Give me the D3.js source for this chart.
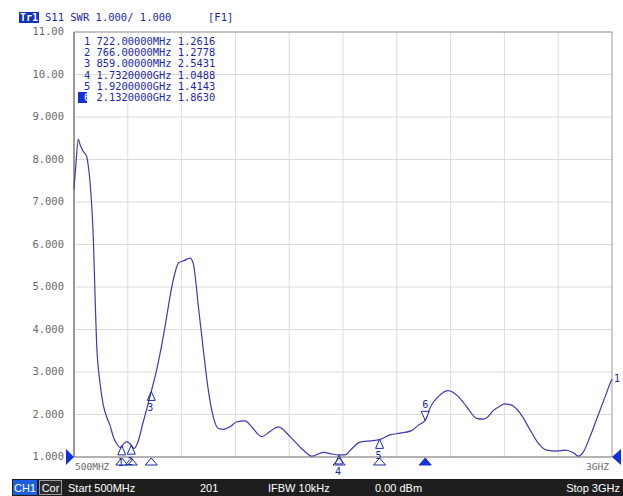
<!DOCTYPE html>
<html>
<head>
<meta charset="utf-8">
<script src="https://cdn.jsdelivr.net/npm/d3@7"></script>
<style>
  html, body { margin: 0; padding: 0; background: #fff; }
  svg { display: block; }
  .mono { font-family: "DejaVu Sans Mono", monospace; }
</style>
</head>
<body>
<svg id="vna" width="623" height="496"></svg>
<script>
"use strict";

// trace 1 : S11 SWR
var freqMHz = [500, 509, 520, 528, 542, 559, 565, 574, 590, 598, 605, 621, 635, 652, 667, 683, 700, 714, 722,
  745, 766, 779, 793, 822, 859, 884, 923, 946, 961, 985, 1011, 1039, 1054, 1078, 1101, 1124, 1147, 1171,
  1194, 1225, 1256, 1295, 1327, 1372, 1411, 1449, 1504, 1566, 1605, 1659, 1690, 1732, 1759, 1792, 1829,
  1876, 1920, 1968, 2015, 2069, 2100, 2132, 2154, 2201, 2239, 2286, 2325, 2371, 2402, 2424, 2448, 2480,
  2501, 2534, 2573, 2619, 2658, 2697, 2743, 2782, 2820, 2843, 2867, 2898, 2936, 2968, 2991, 3000];
var swr = [7.3, 7.9, 8.48, 8.35, 8.2, 8.07, 7.9, 7.5, 6.1, 4.76, 3.68, 2.74, 2.25, 1.94, 1.75, 1.47, 1.3, 1.22, 1.26,
  1.36, 1.28, 1.2, 1.3, 1.83, 2.54, 3.05, 4.07, 4.77, 5.16, 5.56, 5.62, 5.68, 5.56, 4.54, 3.52, 2.58, 1.95, 1.67,
  1.65, 1.71, 1.83, 1.85, 1.7, 1.48, 1.6, 1.71, 1.48, 1.16, 1.02, 1.11, 1.08, 1.05, 1.05, 1.2, 1.35,
  1.38, 1.41, 1.52, 1.56, 1.62, 1.75, 1.86, 2.15, 2.46, 2.56, 2.42, 2.18, 1.91, 1.89, 1.95, 2.09, 2.2,
  2.25, 2.22, 2.03, 1.64, 1.32, 1.16, 1.14, 1.16, 1.10, 1.02, 1.12, 1.48, 1.99, 2.42, 2.73, 2.83];

var markerIds = [1, 2, 3, 4, 5, 6];
var markerFreqs = [722, 766, 859, 1732, 1920, 2132];
var markerVals = [1.2616, 1.2778, 2.5431, 1.0488, 1.4143, 1.8630];
var markerRows = ["722.00000MHz 1.2616", "766.00000MHz 1.2778", "859.00000MHz 2.5431",
  "1.7320000GHz 1.0488", "1.9200000GHz 1.4143", "2.1320000GHz 1.8630"];
var activeMarker = 6;

var yTicks = [1, 2, 3, 4, 5, 6, 7, 8, 9, 10, 11];
var yTickLabels = ["1.000", "2.000", "3.000", "4.000", "5.000", "6.000", "7.000", "8.000", "9.000", "10.00", "11.00"];
var xTicks = [500, 750, 1000, 1250, 1500, 1750, 2000, 2250, 2500, 2750, 3000];
var statusItems = ["Start 500MHz", "201", "IFBW 10kHz", "0.00 dBm", "Stop 3GHz"];

var navy = "#1c2aa8";
var traceColor = "#3c3cb0";

var svg = d3.select("#vna");
var x = d3.scaleLinear().domain([500, 3000]).range([74, 612]);
var y = d3.scaleLinear().domain([1, 11]).range([457, 32]);

// grid
svg.append("g")
  .selectAll("line")
  .data(xTicks.slice(1, -1))
  .join("line")
  .attr("x1", function (d) { return x(d); })
  .attr("x2", function (d) { return x(d); })
  .attr("y1", y(11)).attr("y2", y(1))
  .attr("stroke", "#dcdcdc");

svg.append("g")
  .selectAll("line")
  .data(yTicks.slice(1))
  .join("line")
  .attr("x1", x(500)).attr("x2", x(3000))
  .attr("y1", function (d) { return y(d); })
  .attr("y2", function (d) { return y(d); })
  .attr("stroke", "#dcdcdc");

// frame
svg.append("line").attr("x1", x(3000)).attr("x2", x(3000)).attr("y1", y(11)).attr("y2", y(1))
  .attr("stroke", "#9a9a9a");
svg.append("line").attr("x1", x(500)).attr("x2", x(500)).attr("y1", y(11)).attr("y2", y(1))
  .attr("stroke", "#9a9a9a").attr("stroke-width", 2);
svg.append("line").attr("x1", x(500)).attr("x2", x(3000)).attr("y1", y(1)).attr("y2", y(1))
  .attr("stroke", "#666");
svg.append("line").attr("x1", x(500)).attr("x2", x(3000)).attr("y1", y(11)).attr("y2", y(11))
  .attr("stroke", "#9a9a9a");

// y labels
svg.append("g")
  .selectAll("text")
  .data(yTicks)
  .join("text")
  .attr("class", "mono")
  .attr("x", 64)
  .attr("y", function (d) { return y(d) + 3; })
  .attr("text-anchor", "end")
  .attr("font-size", "10.5px")
  .attr("fill", "#6a6a6a")
  .text(function (d, i) { return yTickLabels[i]; });

// x end labels
svg.append("text").attr("class", "mono").attr("x", 75).attr("y", 470)
  .attr("font-size", "9.5px").attr("fill", "#6a6a6a").text("500MHZ");
svg.append("text").attr("class", "mono").attr("x", 609).attr("y", 470).attr("text-anchor", "end")
  .attr("font-size", "9.5px").attr("fill", "#6a6a6a").text("3GHZ");

// reference level arrows
svg.append("path").attr("d", "M66,449 L74,457 L66,465 Z").attr("fill", "#1230d8");
svg.append("path").attr("d", "M621,449 L612,457 L621,465 Z").attr("fill", "#1230d8");

// trace
var line = d3.line()
  .x(function (d, i) { return x(freqMHz[i]); })
  .y(function (d) { return y(d); })
  .curve(d3.curveMonotoneX);

svg.append("path")
  .datum(swr)
  .attr("d", line)
  .attr("fill", "none")
  .attr("stroke", traceColor)
  .attr("stroke-width", 1.2);

svg.append("text").attr("class", "mono")
  .attr("x", x(3000) + 2).attr("y", y(swr[swr.length - 1]) + 3)
  .attr("font-size", "10px").attr("fill", navy).text("1");

// markers on the trace
markerIds.forEach(function (id, i) {
  var mx = x(markerFreqs[i]);
  var my = y(markerVals[i]);
  var g = svg.append("g");
  if (id === activeMarker) {
    g.append("path")
      .attr("d", "M" + mx + "," + my + " L" + (mx - 4) + "," + (my - 9) + " L" + (mx + 4) + "," + (my - 9) + " Z")
      .attr("fill", "#fff").attr("stroke", navy);
    g.append("text").attr("class", "mono").attr("x", mx).attr("y", my - 12)
      .attr("text-anchor", "middle").attr("font-size", "10px").attr("fill", navy).text(id);
  } else {
    g.append("path")
      .attr("d", "M" + mx + "," + my + " L" + (mx - 4) + "," + (my + 9) + " L" + (mx + 4) + "," + (my + 9) + " Z")
      .attr("fill", "none").attr("stroke", navy);
    g.append("text").attr("class", "mono").attr("x", mx - 1).attr("y", my + 20)
      .attr("text-anchor", "middle").attr("font-size", "10px").attr("fill", navy).text(id);
  }
  // stimulus indicator under the axis
  g.append("path")
    .attr("d", "M" + mx + ",458 L" + (mx - 6) + ",465 L" + (mx + 6) + ",465 Z")
    .attr("fill", id === activeMarker ? "#1230d8" : "none")
    .attr("stroke", id === activeMarker ? "#1230d8" : navy);
});

// marker table
var table = svg.append("g");
table.append("rect").attr("x", 78).attr("y", 92).attr("width", 9).attr("height", 11).attr("fill", "#1230d8");
table.selectAll("text.id")
  .data(markerIds)
  .join("text")
  .attr("class", "mono id")
  .attr("x", 84)
  .attr("y", function (d, i) { return 45 + i * 11.2; })
  .attr("font-size", "10.4px")
  .attr("fill", function (d) { return d === activeMarker ? "#fff" : navy; })
  .text(function (d) { return d; });
table.selectAll("text.row")
  .data(markerRows)
  .join("text")
  .attr("class", "mono row")
  .attr("x", 96.5)
  .attr("y", function (d, i) { return 45 + i * 11.2; })
  .attr("font-size", "10.4px")
  .attr("fill", navy)
  .text(function (d) { return d; });

// header
svg.append("rect").attr("x", 19).attr("y", 12).attr("width", 20).attr("height", 11).attr("fill", "#1030c0");
svg.append("text").attr("class", "mono").attr("x", 20).attr("y", 21)
  .attr("font-size", "10px").attr("font-weight", "bold").attr("fill", "#fff").text("Tr1");
svg.append("text").attr("class", "mono").attr("x", 45).attr("y", 21)
  .attr("font-size", "10.5px").attr("fill", navy).text("S11 SWR 1.000/ 1.000");
svg.append("text").attr("class", "mono").attr("x", 208).attr("y", 21)
  .attr("font-size", "10.5px").attr("fill", navy).text("[F1]");

// status bar
var bar = svg.append("g");
bar.append("rect").attr("x", 12).attr("y", 479).attr("width", 611).attr("height", 17).attr("fill", "#1e1e1e");
bar.append("rect").attr("x", 13).attr("y", 480).attr("width", 24).attr("height", 15).attr("fill", "#1e5fe0");
bar.append("text").attr("x", 25).attr("y", 492).attr("text-anchor", "middle")
  .attr("font-family", "Liberation Sans, sans-serif").attr("font-size", "11px").attr("fill", "#fff").text("CH1");
bar.append("rect").attr("x", 39.5).attr("y", 480.5).attr("width", 22).attr("height", 14)
  .attr("fill", "#2a2a2a").attr("stroke", "#9a9a9a");
bar.append("text").attr("x", 50.5).attr("y", 492).attr("text-anchor", "middle")
  .attr("font-family", "Liberation Sans, sans-serif").attr("font-size", "11px").attr("fill", "#fff").text("Cor");

var statusX = [68, 200, 268, 375, 620];
bar.selectAll("text.st")
  .data(statusItems)
  .join("text")
  .attr("class", "st")
  .attr("x", function (d, i) { return statusX[i]; })
  .attr("y", 492)
  .attr("text-anchor", function (d, i) { return i === 4 ? "end" : "start"; })
  .attr("font-family", "Liberation Sans, sans-serif")
  .attr("font-size", "11px")
  .attr("fill", "#fff")
  .text(function (d) { return d; });
</script>
</body>
</html>
